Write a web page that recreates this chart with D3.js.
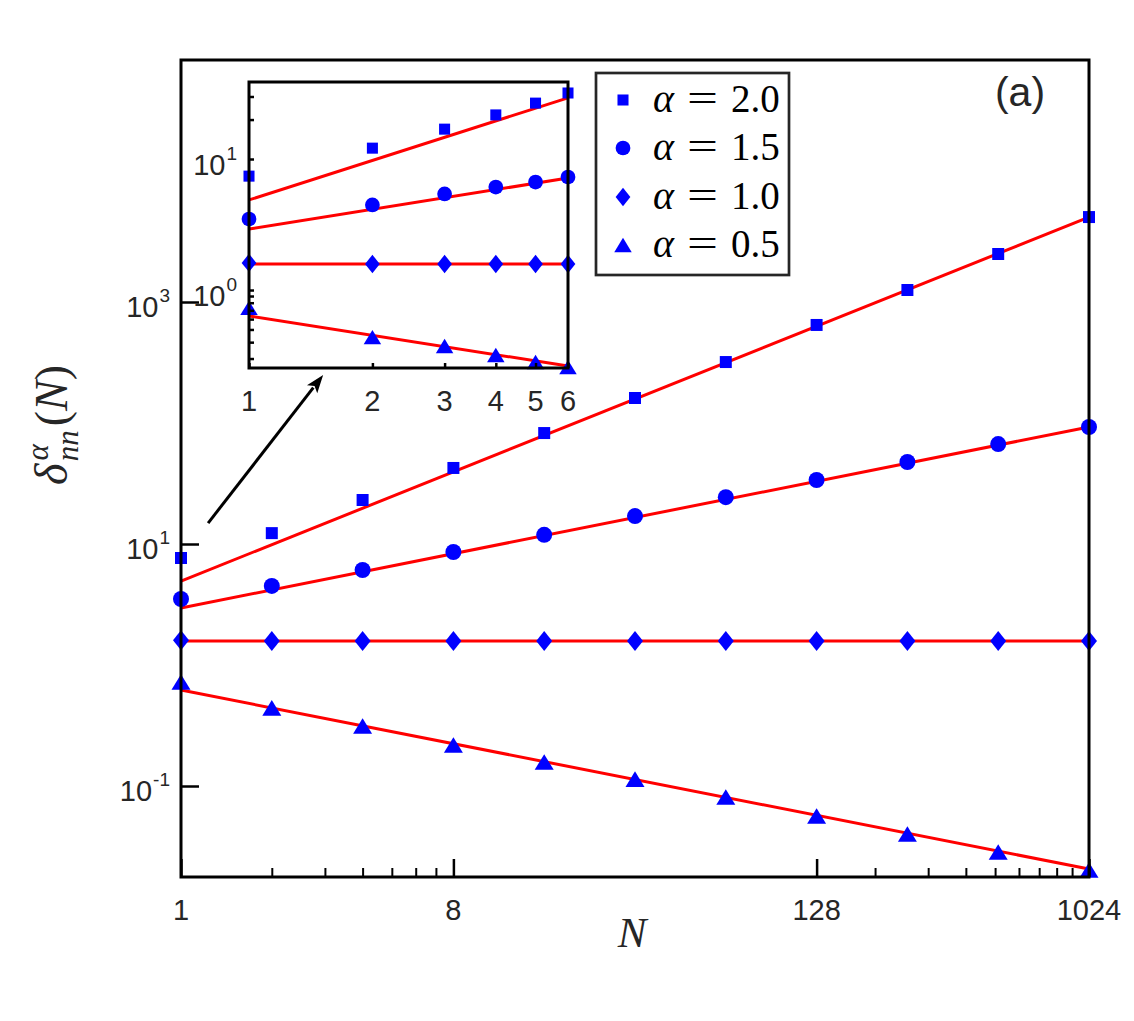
<!DOCTYPE html>
<html><head><meta charset="utf-8">
<script src="https://cdn.jsdelivr.net/npm/d3@7"></script>
<style>body{margin:0;background:#fff}</style>
</head><body>
<svg id="c" width="1134" height="1021"></svg>
<script>
// ---------------- data ----------------
const alphaValues = ["2.0", "1.5", "1.0", "0.5"];
const markerKinds = ["square", "circle", "diamond", "triangle"];

const mainN = [1, 2, 4, 8, 16, 32, 64, 128, 256, 512, 1024];
const mainSquare   = [7.66, 12.3, 23.1, 42.5, 82.6, 161, 319, 646, 1256, 2494, 5035];
const mainCircle   = [3.51, 4.50, 6.10, 8.59, 11.9, 17.0, 24.4, 33.8, 47.6, 67.0, 92.7];
const mainDiamond  = [1.60, 1.58, 1.58, 1.58, 1.58, 1.58, 1.58, 1.58, 1.58, 1.58, 1.58];
const mainTriangle = [0.724, 0.442, 0.313, 0.218, 0.158, 0.114, 0.0811, 0.0565, 0.0401, 0.0285, 0.0202];
const mainFitStart = [4.94, 2.96, 1.58, 0.621];   // fit value at N = 1
const mainFitEnd   = [5035, 92.7, 1.58, 0.0206];  // fit value at N = 1024

const insetN = [1, 2, 3, 4, 5, 6];
const insetSquare   = [7.4, 12.1, 16.9, 21.7, 26.7, 31.9];
const insetCircle   = [3.48, 4.46, 5.41, 6.11, 6.67, 7.29];
const insetDiamond  = [1.61, 1.58, 1.58, 1.58, 1.58, 1.58];
const insetTriangle = [0.73, 0.437, 0.374, 0.319, 0.282, 0.258];
const insetFitStart = [4.87, 2.92, 1.58, 0.634];  // fit value at N = 1
const insetFitEnd   = [29.3, 7.16, 1.58, 0.263];  // fit value at N = 6

const mainXTicks = [1, 8, 128, 1024];
const mainXTickLabels = ["1", "8", "128", "1024"];
const mainXMinor = [2, 3, 4, 5, 6, 7, 200, 300, 400, 500, 600, 700, 800, 900];
const mainYTicks = [0.1, 10, 1000];
const mainYExponents = ["-1", "1", "3"];

const insetXTicks = [1, 2, 3, 4, 5, 6];
const insetXTickLabels = ["1", "2", "3", "4", "5", "6"];
const insetYTicks = [1, 10];
const insetYExponents = ["0", "1"];
const insetYMinor = [0.3, 0.4, 0.5, 0.6, 0.7, 0.8, 0.9, 20, 30];

const arrowFrom = [1.23, 14.9];   // in main data coordinates
const arrowTo   = [2.96, 249];

// ---------------- drawing ----------------
const svg = d3.select("#c");
const BLUE = "#0000ff", RED = "#ff0000", INK = "#262626";

const xMain = d3.scaleLog().base(2).domain([1, 1024]).range([181, 1089]);
const yMain = d3.scaleLog().domain([0.0177, 1e5]).range([877, 60]);
const xIn = d3.scaleLog().domain([1, 6]).range([249, 568]);
const yIn = d3.scaleLog().domain([0.254, 38.7]).range([368, 82]);

function markerPath(kind, s) {
  if (kind === "square") { const h = 6 * s; return `M${-h},${-h}H${h}V${h}H${-h}Z`; }
  if (kind === "circle") { const r = 8 * s; return `M${r},0A${r},${r} 0 1,1 ${-r},0A${r},${r} 0 1,1 ${r},0Z`; }
  if (kind === "diamond") { const w = 8 * s, h = 10 * s; return `M0,${-h}L${w},0L0,${h}L${-w},0Z`; }
  const w = 9.5 * s, h = 7.8 * s; return `M0,${-h}L${w},${h}L${-w},${h}Z`;
}

const mainSeries = [mainSquare, mainCircle, mainDiamond, mainTriangle];
const insetSeries = [insetSquare, insetCircle, insetDiamond, insetTriangle];

// main fit lines
const gMain = svg.append("g");
mainSeries.forEach((_, i) => {
  gMain.append("path")
    .datum([[mainN[0], mainFitStart[i]], [mainN[mainN.length - 1], mainFitEnd[i]]])
    .attr("d", d3.line().x(d => xMain(d[0])).y(d => yMain(d[1])))
    .attr("stroke", RED).attr("stroke-width", 3).attr("fill", "none");
});
mainSeries.forEach((vals, i) => {
  gMain.selectAll(null).data(vals).enter().append("path")
    .attr("transform", (d, j) => `translate(${xMain(mainN[j])},${yMain(d)})`)
    .attr("d", markerPath(markerKinds[i], 1))
    .attr("fill", BLUE);
});

// main axes (ticks inside)
const axG = svg.append("g");
const xAxisMaj = d3.axisBottom(xMain).tickValues(mainXTicks).tickSize(-18).tickFormat("");
const xAxisMin = d3.axisBottom(xMain).tickValues(mainXMinor).tickSize(-9).tickFormat("");
const yAxisMaj = d3.axisLeft(yMain).tickValues(mainYTicks).tickSize(-18).tickFormat("");
axG.append("g").attr("transform", "translate(0,877)").call(xAxisMaj)
  .call(g => g.select(".domain").remove()).selectAll("line").attr("stroke", "#000").attr("stroke-width", 2.5);
axG.append("g").attr("transform", "translate(0,877)").call(xAxisMin)
  .call(g => g.select(".domain").remove()).selectAll("line").attr("stroke", "#000").attr("stroke-width", 2);
axG.append("g").attr("transform", "translate(181,0)").call(yAxisMaj)
  .call(g => g.select(".domain").remove()).selectAll("line").attr("stroke", "#000").attr("stroke-width", 2.5);
axG.append("rect").attr("x", 181).attr("y", 60).attr("width", 1089 - 181).attr("height", 877 - 60)
  .attr("fill", "none").attr("stroke", "#000").attr("stroke-width", 3);

// main tick labels
const labelFont = "'Liberation Sans', Arial, sans-serif";
axG.selectAll(null).data(mainXTicks).enter().append("text")
  .attr("x", d => xMain(d)).attr("y", 920).attr("text-anchor", "middle")
  .attr("font-family", labelFont).attr("font-size", 29).attr("fill", INK)
  .text((d, i) => mainXTickLabels[i]);
mainYTicks.forEach((v, i) => {
  const t = axG.append("text").attr("x", 170).attr("y", yMain(v) + 15).attr("text-anchor", "end")
    .attr("font-family", labelFont).attr("font-size", 29).attr("fill", INK);
  t.append("tspan").text("10");
  t.append("tspan").attr("dx", 1).attr("dy", -15).attr("font-size", 19).text(mainYExponents[i]);
});

// axis titles
svg.append("text").attr("x", 632).attr("y", 947).attr("text-anchor", "middle")
  .attr("font-family", "'Liberation Serif', serif").attr("font-style", "italic")
  .attr("font-size", 43).attr("fill", INK).text("N");
const yt = svg.append("text").attr("transform", "translate(67,425) rotate(-90)")
  .attr("text-anchor", "middle").attr("font-family", "'Liberation Serif', serif")
  .attr("font-size", 46).attr("fill", INK);
yt.append("tspan").attr("font-style", "italic").text("δ");
yt.append("tspan").attr("font-style", "italic").attr("font-size", 31).attr("dx", 3).attr("dy", -19).text("α");
yt.append("tspan").attr("font-style", "italic").attr("font-size", 31).attr("dx", -17).attr("dy", 30).text("nn");
yt.append("tspan").attr("dx", 4).attr("dy", -11).text("(");
yt.append("tspan").attr("font-style", "italic").text("N");
yt.append("tspan").text(")");

// arrow
(function () {
  const x1 = xMain(arrowFrom[0]), y1 = yMain(arrowFrom[1]);
  const x2 = xMain(arrowTo[0]), y2 = yMain(arrowTo[1]);
  const ang = Math.atan2(y2 - y1, x2 - x1), L = 18, W = 6.5;
  const bx = x2 - L * Math.cos(ang), by = y2 - L * Math.sin(ang);
  svg.append("line").attr("x1", x1).attr("y1", y1).attr("x2", bx + 2 * Math.cos(ang)).attr("y2", by + 2 * Math.sin(ang))
    .attr("stroke", "#000").attr("stroke-width", 3);
  svg.append("path").attr("d",
    `M${x2},${y2}L${bx - W * Math.sin(ang)},${by + W * Math.cos(ang)}L${bx + 4 * Math.cos(ang)},${by + 4 * Math.sin(ang)}L${bx + W * Math.sin(ang)},${by - W * Math.cos(ang)}Z`)
    .attr("fill", "#000");
})();

// ---------------- inset ----------------
const gIn = svg.append("g");
gIn.append("rect").attr("x", 249).attr("y", 82).attr("width", 568 - 249).attr("height", 368 - 82).attr("fill", "#fff");
insetSeries.forEach((_, i) => {
  gIn.append("path")
    .datum([[insetN[0], insetFitStart[i]], [insetN[insetN.length - 1], insetFitEnd[i]]])
    .attr("d", d3.line().x(d => xIn(d[0])).y(d => yIn(d[1])))
    .attr("stroke", RED).attr("stroke-width", 3).attr("fill", "none");
});
insetSeries.forEach((vals, i) => {
  gIn.selectAll(null).data(vals).enter().append("path")
    .attr("transform", (d, j) => `translate(${xIn(insetN[j])},${yIn(d)})`)
    .attr("d", markerPath(markerKinds[i], 0.92))
    .attr("fill", BLUE);
});
gIn.append("g").attr("transform", "translate(0,368)")
  .call(d3.axisBottom(xIn).tickValues(insetXTicks).tickSize(-5).tickFormat(""))
  .call(g => g.select(".domain").remove()).selectAll("line").attr("stroke", "#000").attr("stroke-width", 2.5);
gIn.append("g").attr("transform", "translate(249,0)")
  .call(d3.axisLeft(yIn).tickValues(insetYTicks.concat(insetYMinor)).tickSize(-5).tickFormat(""))
  .call(g => g.select(".domain").remove()).selectAll("line").attr("stroke", "#000").attr("stroke-width", 2.5);
gIn.append("rect").attr("x", 249).attr("y", 82).attr("width", 568 - 249).attr("height", 368 - 82)
  .attr("fill", "none").attr("stroke", "#000").attr("stroke-width", 3);
gIn.selectAll(null).data(insetXTicks).enter().append("text")
  .attr("x", d => xIn(d)).attr("y", 411).attr("text-anchor", "middle")
  .attr("font-family", labelFont).attr("font-size", 29).attr("fill", INK)
  .text((d, i) => insetXTickLabels[i]);
insetYTicks.forEach((v, i) => {
  const t = gIn.append("text").attr("x", 237).attr("y", yIn(v) + 16).attr("text-anchor", "end")
    .attr("font-family", labelFont).attr("font-size", 29).attr("fill", INK);
  t.append("tspan").text("10");
  t.append("tspan").attr("dx", 1).attr("dy", -15).attr("font-size", 19).text(insetYExponents[i]);
});

// ---------------- legend ----------------
const lg = svg.append("g");
lg.append("rect").attr("x", 596).attr("y", 73).attr("width", 193).attr("height", 202)
  .attr("fill", "#fff").attr("stroke", INK).attr("stroke-width", 2.7);
const rowY = [100, 148, 197, 245];
alphaValues.forEach((a, i) => {
  lg.append("path").attr("transform", `translate(623,${rowY[i]})`)
    .attr("d", markerPath(markerKinds[i], 0.92)).attr("fill", BLUE);
  const base = rowY[i] + 12;
  lg.append("text").attr("x", 653).attr("y", base).attr("font-family", "'Liberation Serif', serif")
    .attr("font-style", "italic").attr("font-size", 40).attr("fill", "#000").text("α");
  lg.append("text").attr("x", 687).attr("y", base).attr("font-family", "'Liberation Serif', serif")
    .attr("font-size", 40).attr("fill", "#000").attr("textLength", 31).attr("lengthAdjust", "spacingAndGlyphs").text("=");
  lg.append("text").attr("x", 731).attr("y", base).attr("font-family", "'Liberation Serif', serif")
    .attr("font-size", 39).attr("fill", "#000").text(a);
});

// panel label
svg.append("text").attr("x", 1020).attr("y", 106).attr("text-anchor", "middle")
  .attr("font-family", labelFont).attr("font-size", 41).attr("fill", INK).text("(a)");
</script>
</body></html>
